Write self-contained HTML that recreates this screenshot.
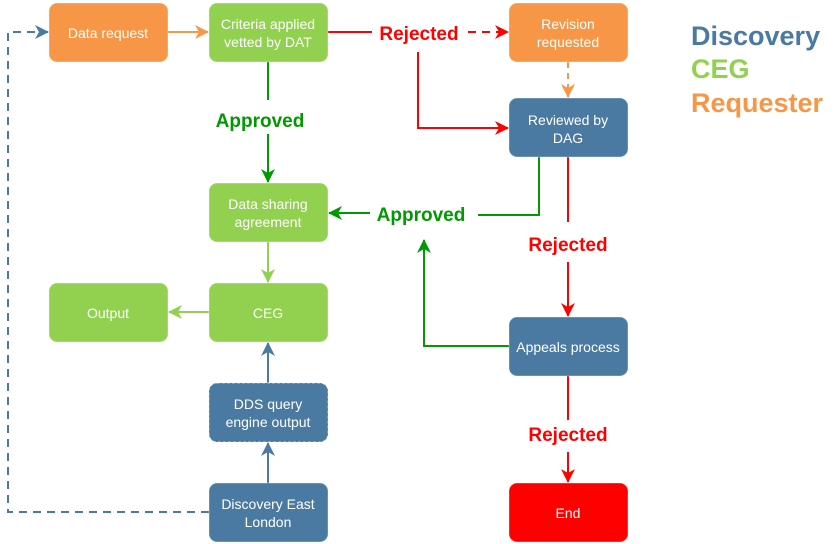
<!DOCTYPE html>
<html><head><meta charset="utf-8"><style>
html,body{margin:0;padding:0;background:#fff;}
svg{display:block;font-family:"Liberation Sans",Arial,sans-serif;}
</style></head><body>
<svg width="839" height="544" viewBox="0 0 839 544" xmlns="http://www.w3.org/2000/svg">
<defs>
<marker id="ab" markerWidth="14" markerHeight="14" refX="13" refY="7" orient="auto" markerUnits="userSpaceOnUse"><path d="M0,0 L14,7 L0,14 L4,7 Z" fill="#4A79A1"/></marker>
<marker id="ao" markerWidth="14" markerHeight="14" refX="13" refY="7" orient="auto" markerUnits="userSpaceOnUse"><path d="M0,0 L14,7 L0,14 L4,7 Z" fill="#F79646"/></marker>
<marker id="ar" markerWidth="14" markerHeight="14" refX="13" refY="7" orient="auto" markerUnits="userSpaceOnUse"><path d="M0,0 L14,7 L0,14 L4,7 Z" fill="#FF0000"/></marker>
<marker id="ag" markerWidth="14" markerHeight="14" refX="13" refY="7" orient="auto" markerUnits="userSpaceOnUse"><path d="M0,0 L14,7 L0,14 L4,7 Z" fill="#009900"/></marker>
<marker id="al" markerWidth="14" markerHeight="14" refX="13" refY="7" orient="auto" markerUnits="userSpaceOnUse"><path d="M0,0 L14,7 L0,14 L4,7 Z" fill="#92D050"/></marker>
</defs>
<g fill="none" stroke-width="2">
<path d="M209,512 H8 V32 H48" stroke="#4A79A1" stroke-dasharray="8,6" marker-end="url(#ab)"/>
<path d="M168,32 H208" stroke="#F79646" marker-end="url(#ao)"/>
<path d="M328,32 H372" stroke="#FF0000"/>
<path d="M468,32 H508" stroke="#FF0000" stroke-dasharray="8,6" marker-end="url(#ar)"/>
<path d="M418,52 V128 H508" stroke="#FF0000" marker-end="url(#ar)"/>
<path d="M568,62 V97" stroke="#F79646" stroke-dasharray="6,5" marker-end="url(#ao)"/>
<path d="M268,62 V100" stroke="#009900"/>
<path d="M268,134 V182" stroke="#009900" marker-end="url(#ag)"/>
<path d="M539,157 V215 H478" stroke="#009900"/>
<path d="M370,213 H329" stroke="#009900" marker-end="url(#ag)"/>
<path d="M568,157 V222" stroke="#FF0000"/>
<path d="M568,262 V316" stroke="#FF0000" marker-end="url(#ar)"/>
<path d="M509,346 H424 V240" stroke="#009900" marker-end="url(#ag)"/>
<path d="M268,242 V282" stroke="#92D050" marker-end="url(#al)"/>
<path d="M209,312 H169" stroke="#92D050" marker-end="url(#al)"/>
<path d="M268,383 V343" stroke="#4A79A1" marker-end="url(#ab)"/>
<path d="M268,483 V443" stroke="#4A79A1" marker-end="url(#ab)"/>
<path d="M568,376 V420" stroke="#FF0000"/>
<path d="M568,452 V482" stroke="#FF0000" marker-end="url(#ar)"/>
</g>
<g stroke="#fff" stroke-opacity="0.35" stroke-width="1">
<rect x="49" y="3" width="119" height="59" rx="8" fill="#F79646"/>
<rect x="209" y="3" width="119" height="59" rx="8" fill="#92D050"/>
<rect x="509" y="3" width="119" height="59" rx="8" fill="#F79646"/>
<rect x="509" y="98" width="119" height="59" rx="8" fill="#4A79A1"/>
<rect x="209" y="183" width="119" height="59" rx="8" fill="#92D050"/>
<rect x="49" y="283" width="119" height="59" rx="8" fill="#92D050"/>
<rect x="209" y="283" width="119" height="59" rx="8" fill="#92D050"/>
<rect x="509" y="317" width="119" height="59" rx="8" fill="#4A79A1"/>
<rect x="209" y="483" width="119" height="59" rx="8" fill="#4A79A1"/>
<rect x="509" y="483" width="119" height="59" rx="8" fill="#FF0000"/>
</g>
<rect x="209" y="383" width="119" height="59" rx="8" fill="#4A79A1" stroke="#fff" stroke-opacity="0.6" stroke-dasharray="3,2"/>
<g fill="#fff" font-size="14" text-anchor="middle">
<text x="108" y="38">Data request</text>
<text x="268" y="29">Criteria applied</text><text x="268" y="47">vetted by DAT</text>
<text x="568" y="29">Revision</text><text x="568" y="47">requested</text>
<text x="568" y="125">Reviewed by</text><text x="568" y="143">DAG</text>
<text x="268" y="209">Data sharing</text><text x="268" y="227">agreement</text>
<text x="108" y="318">Output</text>
<text x="268" y="318">CEG</text>
<text x="568" y="352">Appeals process</text>
<text x="268" y="409">DDS query</text><text x="268" y="427">engine output</text>
<text x="268" y="509">Discovery East</text><text x="268" y="527">London</text>
<text x="568" y="518">End</text>
</g>
<g font-size="19" font-weight="bold" text-anchor="middle">
<text x="419" y="40" fill="#FF0000">Rejected</text>
<text x="260" y="127" fill="#009900">Approved</text>
<text x="421" y="221" fill="#009900">Approved</text>
<text x="568" y="251" fill="#FF0000">Rejected</text>
<text x="568" y="441" fill="#FF0000">Rejected</text>
</g>
<g font-size="27" font-weight="bold">
<text x="691" y="45" fill="#4A79A1">Discovery</text>
<text x="691" y="78" fill="#92D050">CEG</text>
<text x="691" y="112" fill="#F79646">Requester</text>
</g>
</svg>
</body></html>
